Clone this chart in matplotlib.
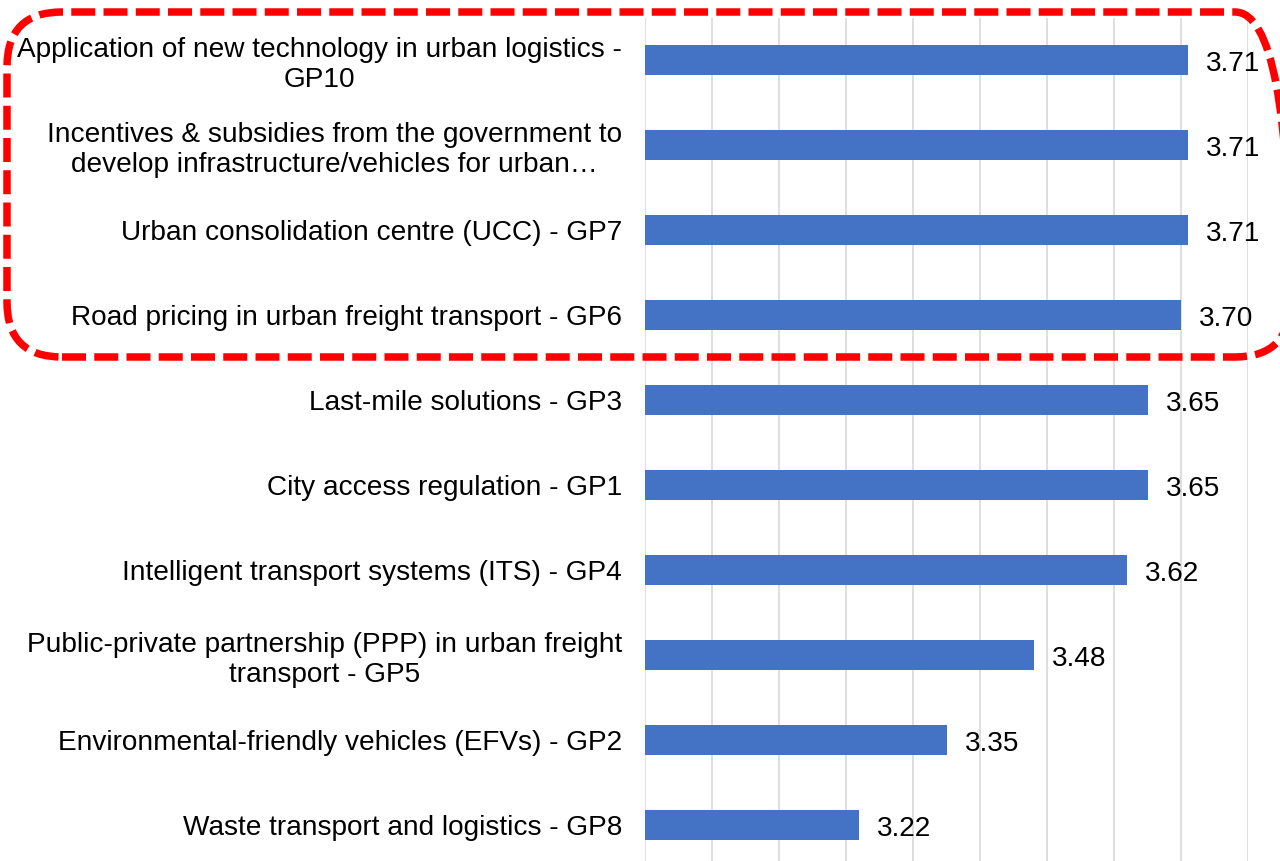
import matplotlib.pyplot as plt
from matplotlib.patches import FancyBboxPatch
from matplotlib.transforms import IdentityTransform

labels = [
    "Waste transport and logistics - GP8",
    "Environmental-friendly vehicles (EFVs) - GP2",
    "Public-private partnership (PPP) in urban freight\ntransport - GP5",
    "Intelligent transport systems (ITS) - GP4",
    "City access regulation - GP1",
    "Last-mile solutions - GP3",
    "Road pricing in urban freight transport - GP6",
    "Urban consolidation centre (UCC) - GP7",
    "Incentives & subsidies from the government to\ndevelop infrastructure/vehicles for urban\u2026",
    "Application of new technology in urban logistics -\nGP10",
]
values = [3.22, 3.35, 3.48, 3.62, 3.65, 3.65, 3.70, 3.71, 3.71, 3.71]
grid_ticks = [2.9, 3.0, 3.1, 3.2, 3.3, 3.4, 3.5, 3.6, 3.7, 3.8]

plt.rcParams['font.family'] = ['Liberation Sans', 'DejaVu Sans']

fig = plt.figure(figsize=(12.8, 8.61), dpi=100)
ax = fig.add_axes([645 / 1280, 0, (1248 - 645) / 1280, (861 - 18) / 861])

pos = list(range(len(values)))
ax.barh(pos, values, height=0.35, left=0, color="#4472C4", zorder=3)
ax.set_xlim(2.9, 3.8)
ax.set_ylim(-0.4235, 9.494)

ax.set_xticks(grid_ticks)
ax.set_xticklabels([])
ax.tick_params(axis="x", length=0)
ax.grid(axis="x", color="#d9d9d9", linewidth=1.2, zorder=0)
ax.set_yticks(pos)
ax.set_yticklabels(labels, fontsize=20.2, multialignment="center", linespacing=1.2)
ax.tick_params(axis="y", length=0, pad=16.5)
for s in ax.spines.values():
    s.set_visible(False)

for p, v in zip(pos, values):
    ax.annotate(f"{v:.2f}", xy=(v, p), xytext=(18, -4), textcoords="offset pixels",
                va="center", ha="left", fontsize=20.2, clip_on=False)

# red dashed rounded box around the top four items (pixel coords)
box = FancyBboxPatch((7, 861 - 357), 1290 - 7, 357 - 12,
                     boxstyle="round,pad=0,rounding_size=55",
                     transform=IdentityTransform(), fill=False,
                     edgecolor="#FF0000", linewidth=5.4,
                     linestyle=(0, (3.2, 1.1)), clip_on=False)
fig.patches.append(box)

fig.savefig("out.png", dpi=100)
